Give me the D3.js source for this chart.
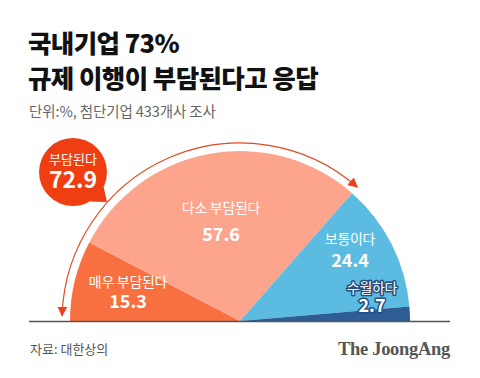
<!DOCTYPE html>
<html><head><meta charset="utf-8">
<script src="https://cdn.jsdelivr.net/npm/d3@7"></script>
<style>
body{margin:0;background:#fff;}
svg{display:block;font-family:"Noto Sans CJK KR","Noto Sans",sans-serif;}
</style></head>
<body><svg id="c" width="480" height="378"></svg>
<script>
const categories = ["매우 부담된다","다소 부담된다","보통이다","수월하다"];
const values = [15.3, 57.6, 24.4, 2.7];
const colors = ["#f8703f","#fca48c","#5bbbe0","#2e5c94"];
const burdenLabel = "부담된다";
const burdenValue = 72.9;
const titleLines = ["국내기업 73%","규제 이행이 부담된다고 응답"];
const subtitle = "단위:%, 첨단기업 433개사 조사";
const source = "자료: 대한상의";
const brand = "The JoongAng";

const svg = d3.select("#c");
const cx = 240, cy = 321, R = 170, RA = 178;

// title
svg.selectAll("text.title").data(titleLines).join("text")
  .attr("x", 28).attr("y", (d,i)=>53+i*35)
  .attr("font-size", 25.5).attr("font-weight", 900).attr("fill", "#111")
  .attr("letter-spacing", -0.6).text(d=>d);
svg.append("text").attr("x", 29).attr("y", 117).attr("font-size", 14.5)
  .attr("fill", "#666").attr("letter-spacing", -0.1).text(subtitle);

// pie
const pie = d3.pie().sort(null).startAngle(-Math.PI/2).endAngle(Math.PI/2);
const arcs = pie(values);
const arc = d3.arc().innerRadius(0).outerRadius(R);
const g = svg.append("g").attr("transform", `translate(${cx},${cy})`);
g.selectAll("path").data(arcs).join("path").attr("d", arc).attr("fill", (d,i)=>colors[i]);

// baseline
svg.append("line").attr("x1", 29).attr("x2", 450).attr("y1", cy+0.5).attr("y2", cy+0.5)
  .attr("stroke", "#555").attr("stroke-width", 1.5);

// arrow arc
const defs = svg.append("defs");
defs.append("marker").attr("id","ah").attr("viewBox","0 0 10 10").attr("refX",9).attr("refY",5)
  .attr("markerWidth",10).attr("markerHeight",10).attr("markerUnits","userSpaceOnUse")
  .attr("orient","auto-start-reverse")
  .append("path").attr("d","M0,0 L10,5 L0,10 Z").attr("fill","#e8431c");
const total = d3.sum(values);
const a0 = Math.PI + 0.03, a1 = Math.PI + Math.PI*burdenValue/total;
const p = d3.path();
p.arc(0, 0, RA, a0, a1, false);
g.append("path").attr("d", p.toString()).attr("fill","none").attr("stroke","#e04a22")
  .attr("stroke-width",1.2).attr("marker-start","url(#ah)").attr("marker-end","url(#ah)");

// labels
const labelPos = [[128,287,308],[221,213,241],[350,244,267],[372,293,312]];
arcs.forEach((d,i)=>{
  const [x,y1,y2] = labelPos[i];
  const halo = i===3;
  const t1 = svg.append("text").attr("x",x).attr("y",y1).attr("text-anchor","middle")
    .attr("font-size",14).attr("fill","#fff").attr("letter-spacing",-0.3).text(categories[i]);
  const t2 = svg.append("text").attr("x",x).attr("y",y2).attr("text-anchor","middle")
    .attr("font-size",18).attr("font-weight",700).attr("fill","#fff").text(d3.format(".1f")(values[i]));
  if (halo) [t1,t2].forEach(t=>t.attr("stroke","#244d80").attr("stroke-width",3)
    .attr("stroke-linejoin","round").attr("paint-order","stroke"));
});

// badge
const bx = 73, by = 172, br = 34;
const b = svg.append("g");
b.append("path").attr("d", `M${bx+br*Math.cos(0.45)},${by+br*Math.sin(0.45)} L${bx+34},${by+30} L${bx+br*Math.cos(1.05)},${by+br*Math.sin(1.05)} Z`)
  .attr("fill","#ee3e12");
b.append("circle").attr("cx",bx).attr("cy",by).attr("r",br).attr("fill","#ee3e12");
b.append("text").attr("x",bx).attr("y",by-8).attr("text-anchor","middle").attr("font-size",13)
  .attr("fill","#fff").text(burdenLabel);
b.append("text").attr("x",bx).attr("y",by+16).attr("text-anchor","middle").attr("font-size",23)
  .attr("font-weight",700).attr("fill","#fff").text(d3.format(".1f")(burdenValue));

// footer
svg.append("text").attr("x",30).attr("y",354).attr("font-size",13).attr("fill","#555").text(source);
svg.append("text").attr("x",450).attr("y",355).attr("text-anchor","end").attr("font-size",18.5)
  .attr("font-weight",700).attr("font-family","'Liberation Serif','DejaVu Serif',serif")
  .attr("fill","#555").attr("letter-spacing",-0.3).text(brand);
</script></body></html>
